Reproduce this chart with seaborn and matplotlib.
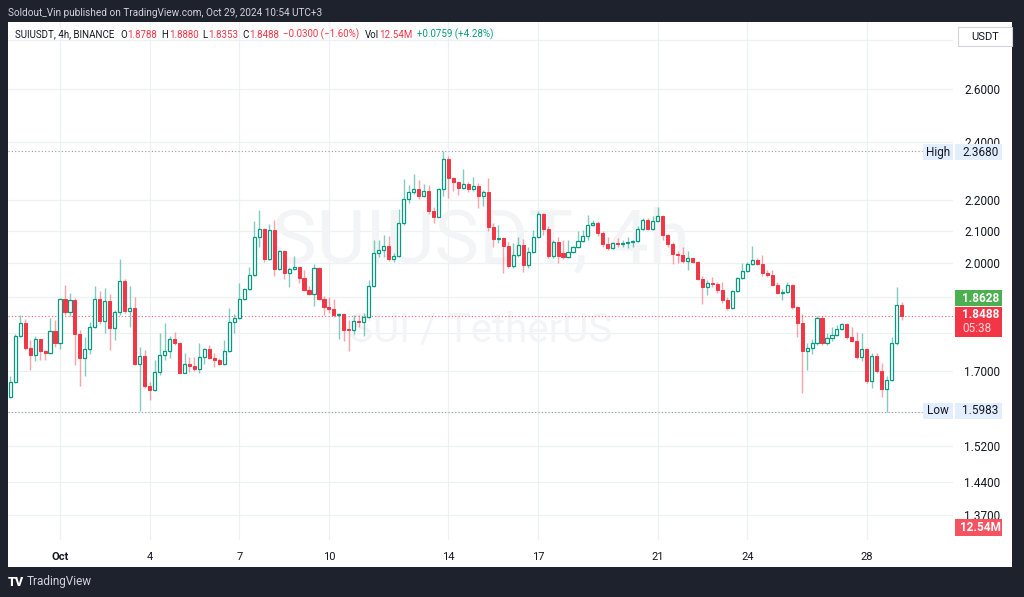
import numpy as np
import pandas as pd
import matplotlib
matplotlib.use("Agg")
import matplotlib.pyplot as plt
import seaborn as sns
from matplotlib.patches import Rectangle
from matplotlib.ticker import NullLocator

# SUIUSDT 4h candles (Sep 29 11:00 -> Oct 29 07:00, UTC+3)
opens = [1.636, 1.673, 1.792, 1.829, 1.760, 1.743, 1.784, 1.752, 1.748, 1.807,
         1.775, 1.895, 1.859, 1.893, 1.797, 1.734, 1.758, 1.818, 1.895, 1.833,
         1.891, 1.815, 1.858, 1.947, 1.861, 1.870, 1.718, 1.740, 1.663, 1.653,
         1.698, 1.743, 1.753, 1.786, 1.775, 1.697, 1.720, 1.713, 1.706, 1.736,
         1.757, 1.734, 1.729, 1.720, 1.752, 1.831, 1.842, 1.895, 1.923, 1.965,
         2.080, 2.106, 2.014, 2.104, 1.983, 2.037, 1.972, 1.982, 1.988, 1.955,
         1.920, 1.911, 1.985, 1.895, 1.874, 1.867, 1.851, 1.854, 1.810, 1.809,
         1.835, 1.831, 1.845, 1.932, 2.032, 2.040, 2.052, 2.012, 2.022, 2.125,
         2.203, 2.225, 2.238, 2.214, 2.230, 2.164, 2.145, 2.235, 2.340, 2.273,
         2.259, 2.239, 2.254, 2.235, 2.248, 2.213, 2.227, 2.112, 2.075, 2.078,
         2.053, 1.992, 2.025, 2.056, 1.995, 2.035, 2.081, 2.154, 2.106, 2.022,
         2.066, 2.030, 2.020, 2.033, 2.049, 2.069, 2.085, 2.120, 2.126, 2.092,
         2.058, 2.046, 2.061, 2.058, 2.061, 2.066, 2.068, 2.106, 2.135, 2.107,
         2.130, 2.149, 2.087, 2.059, 2.028, 2.025, 2.008, 2.017, 2.005, 1.953,
         1.929, 1.943, 1.938, 1.920, 1.893, 1.869, 1.917, 1.956, 1.978, 1.997,
         2.010, 1.998, 1.970, 1.965, 1.937, 1.913, 1.916, 1.937, 1.873, 1.828,
         1.754, 1.760, 1.775, 1.842, 1.773, 1.788, 1.795, 1.813, 1.826, 1.791,
         1.780, 1.738, 1.758, 1.676, 1.740, 1.700, 1.656, 1.678, 1.775, 1.8788]
highs = [1.689, 1.797, 1.849, 1.838, 1.782, 1.794, 1.786, 1.756, 1.841, 1.836,
         1.899, 1.935, 1.914, 1.897, 1.809, 1.789, 1.832, 1.932, 1.917, 1.927,
         1.910, 1.864, 2.012, 1.952, 1.932, 1.900, 1.764, 1.756, 1.674, 1.729,
         1.802, 1.827, 1.794, 1.804, 1.777, 1.747, 1.738, 1.738, 1.773, 1.760,
         1.770, 1.747, 1.734, 1.782, 1.869, 1.854, 1.942, 1.928, 1.990, 2.130,
         2.167, 2.110, 2.123, 2.135, 2.040, 2.040, 1.990, 2.022, 1.990, 1.980,
         1.932, 1.997, 1.989, 1.905, 1.902, 1.895, 1.855, 1.857, 1.836, 1.849,
         1.849, 1.857, 1.950, 2.071, 2.071, 2.086, 2.083, 2.030, 2.170, 2.270,
         2.250, 2.288, 2.267, 2.254, 2.251, 2.177, 2.240, 2.368, 2.350, 2.276,
         2.262, 2.305, 2.260, 2.276, 2.256, 2.233, 2.273, 2.125, 2.120, 2.080,
         2.066, 2.061, 2.081, 2.073, 2.050, 2.103, 2.165, 2.158, 2.115, 2.071,
         2.081, 2.071, 2.071, 2.052, 2.100, 2.103, 2.151, 2.133, 2.130, 2.100,
         2.081, 2.066, 2.078, 2.071, 2.081, 2.071, 2.115, 2.140, 2.140, 2.148,
         2.177, 2.151, 2.090, 2.066, 2.036, 2.050, 2.038, 2.020, 2.007, 1.962,
         1.950, 1.960, 1.945, 1.945, 1.902, 1.920, 1.960, 2.000, 2.005, 2.052,
         2.015, 2.025, 1.980, 1.980, 1.945, 1.923, 1.945, 1.940, 1.876, 1.854,
         1.773, 1.786, 1.847, 1.847, 1.802, 1.818, 1.823, 1.828, 1.828, 1.818,
         1.804, 1.802, 1.760, 1.747, 1.747, 1.722, 1.688, 1.791, 1.930, 1.888]
lows = [1.633, 1.670, 1.790, 1.756, 1.704, 1.727, 1.729, 1.729, 1.745, 1.764,
        1.758, 1.850, 1.848, 1.717, 1.663, 1.688, 1.745, 1.814, 1.825, 1.801,
        1.756, 1.782, 1.850, 1.855, 1.818, 1.716, 1.602, 1.658, 1.628, 1.651,
        1.690, 1.729, 1.734, 1.770, 1.696, 1.695, 1.699, 1.702, 1.697, 1.720,
        1.731, 1.710, 1.716, 1.717, 1.750, 1.800, 1.840, 1.892, 1.920, 1.963,
        2.049, 2.005, 2.010, 1.962, 1.980, 1.953, 1.931, 1.979, 1.941, 1.917,
        1.906, 1.876, 1.893, 1.850, 1.856, 1.846, 1.786, 1.780, 1.752, 1.797,
        1.818, 1.794, 1.842, 1.929, 2.020, 2.020, 2.006, 2.005, 2.019, 2.119,
        2.190, 2.220, 2.203, 2.210, 2.154, 2.125, 2.143, 2.212, 2.208, 2.230,
        2.216, 2.235, 2.228, 2.230, 2.173, 2.181, 2.100, 2.050, 2.062, 1.972,
        1.986, 1.985, 2.020, 1.975, 1.986, 2.030, 2.077, 2.086, 2.015, 2.016,
        2.000, 2.012, 2.015, 2.030, 2.045, 2.066, 2.071, 2.115, 2.085, 2.050,
        2.040, 2.043, 2.050, 2.050, 2.047, 2.050, 2.064, 2.103, 2.103, 2.103,
        2.127, 2.071, 2.050, 1.998, 2.002, 2.000, 1.980, 2.002, 1.950, 1.881,
        1.906, 1.930, 1.912, 1.885, 1.863, 1.866, 1.915, 1.953, 1.975, 1.994,
        1.995, 1.963, 1.960, 1.932, 1.910, 1.893, 1.913, 1.867, 1.790, 1.645,
        1.704, 1.745, 1.770, 1.768, 1.770, 1.779, 1.792, 1.808, 1.786, 1.776,
        1.733, 1.727, 1.670, 1.658, 1.696, 1.635, 1.5983, 1.676, 1.770, 1.8353]
closes = [1.673, 1.792, 1.829, 1.760, 1.743, 1.784, 1.752, 1.748, 1.807, 1.775,
          1.895, 1.859, 1.893, 1.797, 1.734, 1.758, 1.818, 1.895, 1.833, 1.891,
          1.815, 1.858, 1.947, 1.861, 1.870, 1.718, 1.740, 1.663, 1.653, 1.698,
          1.743, 1.753, 1.786, 1.775, 1.697, 1.720, 1.713, 1.706, 1.736, 1.757,
          1.734, 1.729, 1.720, 1.752, 1.831, 1.842, 1.895, 1.923, 1.965, 2.080,
          2.106, 2.014, 2.104, 1.983, 2.037, 1.972, 1.982, 1.988, 1.955, 1.920,
          1.911, 1.985, 1.895, 1.874, 1.867, 1.851, 1.854, 1.810, 1.809, 1.835,
          1.831, 1.845, 1.932, 2.032, 2.040, 2.052, 2.012, 2.022, 2.125, 2.203,
          2.225, 2.238, 2.214, 2.230, 2.164, 2.145, 2.235, 2.340, 2.273, 2.259,
          2.239, 2.254, 2.235, 2.248, 2.213, 2.227, 2.112, 2.075, 2.078, 2.053,
          1.992, 2.025, 2.056, 1.995, 2.035, 2.081, 2.154, 2.106, 2.022, 2.066,
          2.022, 2.020, 2.033, 2.049, 2.069, 2.085, 2.120, 2.126, 2.092, 2.058,
          2.046, 2.061, 2.058, 2.061, 2.066, 2.068, 2.106, 2.135, 2.107, 2.130,
          2.149, 2.087, 2.059, 2.028, 2.025, 2.008, 2.017, 2.005, 1.953, 1.929,
          1.943, 1.938, 1.920, 1.893, 1.869, 1.917, 1.956, 1.978, 1.997, 2.010,
          1.998, 1.970, 1.965, 1.937, 1.913, 1.916, 1.937, 1.873, 1.828, 1.754,
          1.760, 1.775, 1.842, 1.773, 1.788, 1.795, 1.813, 1.826, 1.791, 1.780,
          1.738, 1.758, 1.676, 1.740, 1.700, 1.656, 1.678, 1.775, 1.8788, 1.8488]

start_time = "2024-09-29 11:00"
label_days = [1, 4, 7, 10, 14, 17, 21, 24, 28]
price_ticks = [2.8, 2.6, 2.4, 2.2, 2.1, 2.0, 1.9, 1.8, 1.7, 1.6, 1.52, 1.44, 1.37]
hidden_ticks = [2.8, 1.9, 1.8, 1.6]   # covered by the price tags in the original

sns.set_theme(style="white")
plt.rcParams['font.family'] = ['Roboto', 'DejaVu Sans']

W, H = 1024, 597
DARK = '#1e222d'
GREEN = '#089981'
RED = '#f23645'
INK = '#131722'


def fx(px):
    return px / W


def fy(py):
    return 1 - py / H


fig = plt.figure(figsize=(W / 100, H / 100), dpi=100, facecolor=DARK)
# white panel
fig.patches.append(Rectangle((fx(8), fy(567)), fx(1012) - fx(8), fy(22) - fy(567),
                             transform=fig.transFigure, facecolor='white',
                             edgecolor='none', zorder=-1))

ax = fig.add_axes([fx(8), fy(540), fx(953) - fx(8), fy(22) - fy(540)])
ax.set_facecolor('none')
ax.set_yscale('log')
ax.set_ylim(1.3192, 2.8749)
ax.set_xlim(-0.44, 189.3)

times = pd.date_range(start_time, periods=len(closes), freq="4h")
x = np.arange(len(closes))
o = np.array(opens)
h = np.array(highs)
l = np.array(lows)
c = np.array(closes)
up = c >= o

# wicks
ax.vlines(x[up], l[up], h[up], color=GREEN, alpha=0.5, lw=1.0, zorder=2)
ax.vlines(x[~up], l[~up], h[~up], color=RED, alpha=0.45, lw=1.0, zorder=2)
# bodies (hollow up candles)
bot = np.minimum(o, c)
hgt = np.maximum(np.abs(c - o), 0.002)
ax.bar(x[up], hgt[up], bottom=bot[up], width=0.62, facecolor='white',
       edgecolor=GREEN, linewidth=0.9, zorder=3)
ax.bar(x[~up], hgt[~up], bottom=bot[~up], width=0.62, facecolor=RED,
       edgecolor=RED, linewidth=0.7, zorder=3)

# grid and ticks
ax.set_yticks(price_ticks)
ax.yaxis.set_minor_locator(NullLocator())
ax.set_yticklabels(["" if v in hidden_ticks else f"{v:.4f}" for v in price_ticks])
ax.yaxis.tick_right()
ax.tick_params(axis='y', length=0, pad=8, labelsize=8.5, labelcolor=INK)

tick_idx = [i for i, t in enumerate(times) if t.hour == 3 and t.day in label_days]
tick_lbl = ["Oct" if times[i].day == 1 else str(times[i].day) for i in tick_idx]
ax.set_xticks(tick_idx)
ax.set_xticklabels(tick_lbl)
ax.tick_params(axis='x', length=0, pad=9, labelsize=8, labelcolor=INK)
ax.get_xticklabels()[0].set_fontweight('bold')
ax.grid(True, color='#eef0f3', lw=0.9, zorder=0)
for s in ax.spines.values():
    s.set_visible(False)

# watermark
ax.text(0.5, 0.575, "SUIUSDT, 4h", transform=ax.transAxes, ha='center', va='center',
        fontsize=54, color='#f3f4f6', zorder=1)
ax.text(0.5, 0.405, "SUI / TetherUS", transform=ax.transAxes, ha='center', va='center',
        fontsize=29, color='#f3f4f6', zorder=1)

# high / low / last price lines
hi, lo, last = max(highs), min(lows), closes[-1]
ax.axhline(hi, xmin=0, xmax=(922 - 8) / 945, color='#9598a1', ls=(0, (1, 2)), lw=0.8, zorder=1)
ax.axhline(lo, xmin=0, xmax=(922 - 8) / 945, color='#9598a1', ls=(0, (1, 2)), lw=0.8, zorder=1)
ax.axhline(last, color=RED, ls=(0, (1, 2)), lw=0.8, alpha=0.8, zorder=1)


def box(x0, y0, x1, y1, face, edge='none'):
    fig.patches.append(Rectangle((fx(x0), fy(y1)), fx(x1) - fx(x0), fy(y0) - fy(y1),
                                 transform=fig.transFigure, facecolor=face,
                                 edgecolor=edge, lw=0.8, zorder=4))


def txt(xp, yp, s, **kw):
    kw.setdefault('va', 'center')
    return fig.text(fx(xp), fy(yp), s, zorder=5, **kw)


# right side price tags
box(958, 27, 1012, 46, 'white', '#d1d4dc')
txt(985, 36.5, "USDT", ha='center', fontsize=8, color=INK)

box(923, 144, 953, 160, '#e3eefc')
box(955, 144, 1002, 160, '#e3eefc')
txt(938, 152, "High", ha='center', fontsize=8.5, color=INK)
txt(962, 152, f"{hi:.4f}", fontsize=8.5, color=INK)

box(923, 403, 953, 419, '#e3eefc')
box(955, 403, 1002, 419, '#e3eefc')
txt(938, 411, "Low", ha='center', fontsize=8.5, color=INK)
txt(962, 411, f"{lo:.4f}", fontsize=8.5, color=INK)

box(955, 290, 1002, 306, '#4caf50')
txt(962, 298, "1.8628", fontsize=8.5, color='white', fontweight='bold')
box(955, 307, 1002, 337, RED)
txt(962, 315, f"{last:.4f}", fontsize=8.5, color='white', fontweight='bold')
txt(962, 329, "05:38", fontsize=8.5, color='#ffd6da')
box(955, 519, 1002, 536, '#f7525f')
txt(960, 527.5, "12.54M", fontsize=8.5, color='white', fontweight='bold')

# header
txt(8, 13, "Soldout_Vin published on TradingView.com, Oct 29, 2024 10:54 UTC+3",
    fontsize=7.2, color='#d1d4dc')

# legend row laid out left to right: (gap before, text, colour)
legend_parts = [(0, "SUIUSDT, 4h, BINANCE", INK),
                (6, "O", INK), (0.5, f"{opens[-1]:.4f}", RED),
                (4, "H", INK), (0.5, f"{highs[-1]:.4f}", RED),
                (4, "L", INK), (0.5, f"{lows[-1]:.4f}", RED),
                (4, "C", INK), (0.5, f"{closes[-1]:.4f}", RED),
                (4, "\u22120.0300 (\u22121.60%)", RED),
                (6, "Vol", INK), (0.5, "12.54M", RED),
                (4, "+0.0759 (+4.28%)", GREEN)]
renderer = fig.canvas.get_renderer()
cursor = 15
for gap, s, col in legend_parts:
    t = txt(cursor + gap, 34.5, s, fontsize=7, color=col)
    cursor = cursor + gap + t.get_window_extent(renderer).width

# footer logo
txt(8, 582, "TV", fontsize=9, color='white', fontweight='heavy')
txt(27, 582, "TradingView", fontsize=8.5, color='#d1d4dc')

fig.savefig("out.png", dpi=100, facecolor=DARK)
